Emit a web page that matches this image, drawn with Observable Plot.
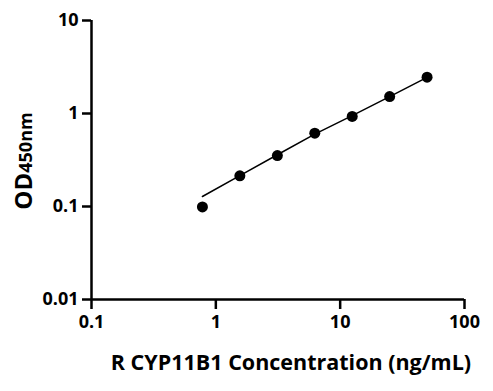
<!DOCTYPE html>
<html>
<head>
<meta charset="utf-8">
<script src="https://cdn.jsdelivr.net/npm/d3@7"></script>
<script src="https://cdn.jsdelivr.net/npm/@observablehq/plot@0.6"></script>
<style>
  html, body { margin: 0; padding: 0; background: #fff; }
  svg { font-family: "Open Sans", sans-serif; }
</style>
</head>
<body>
<div id="chart"></div>
<script>
const concentration = [0.78, 1.56, 3.125, 6.25, 12.5, 25, 50];
const od = [0.099, 0.214, 0.353, 0.614, 0.93, 1.52, 2.46];
const fitConcentration = [0.78, 1.56, 3.125, 6.25, 12.5, 25, 50];
const fitOd = [0.128, 0.215, 0.36, 0.60, 0.95, 1.52, 2.45];
const xTicks = [0.1, 1, 10, 100];
const yTicks = [0.01, 0.1, 1, 10];
const xTitle = "R CYP11B1 Concentration (ng/mL)";
const yTitleMain = "OD";
const yTitleSub = "450nm";

const points = concentration.map((c, i) => ({c, od: od[i]}));
const fit = fitConcentration.map((c, i) => ({c, od: fitOd[i]}));

const chart = Plot.plot({
  width: 493,
  height: 391,
  marginLeft: 91,
  marginRight: 29,
  marginTop: 20,
  marginBottom: 92,
  style: {fontFamily: "Open Sans, sans-serif", background: "#fff", color: "#000"},
  x: {type: "log", domain: [0.1, 100]},
  y: {type: "log", domain: [0.01, 10]},
  marks: [
    Plot.axisX({ticks: xTicks, tickFormat: d => String(d), tickSize: 10, tickPadding: 6, strokeWidth: 2.5,
      fontSize: 18, fontWeight: "bold", label: null}),
    Plot.axisY({ticks: yTicks, tickFormat: d => String(d), tickSize: 9, tickPadding: 4, strokeWidth: 2.5,
      fontSize: 18, fontWeight: "bold", label: null}),
    Plot.ruleY([0.01], {stroke: "#000", strokeWidth: 2.5}),
    Plot.ruleX([0.1], {stroke: "#000", strokeWidth: 2.5}),
    Plot.line(fit, {x: "c", y: "od", stroke: "#000", strokeWidth: 1.5}),
    Plot.dot(points, {x: "c", y: "od", r: 5.5, fill: "#000", stroke: "none"})
  ]
});

const svg = d3.select(chart);
svg.append("text")
  .attr("x", 291).attr("y", 370)
  .attr("text-anchor", "middle")
  .attr("font-size", 21.5).attr("font-weight", "bold")
  .attr("font-family", "Open Sans, sans-serif")
  .attr("fill", "#000")
  .text(xTitle);

const yt = svg.append("text")
  .attr("transform", "translate(32,161) rotate(-90)")
  .attr("text-anchor", "middle")
  .attr("font-weight", "bold")
  .attr("font-family", "Open Sans, sans-serif")
  .attr("fill", "#000");
yt.append("tspan").attr("font-size", 24).text(yTitleMain);
yt.append("tspan").attr("font-size", 18).text(yTitleSub);

document.getElementById("chart").appendChild(chart);
</script>
</body>
</html>
